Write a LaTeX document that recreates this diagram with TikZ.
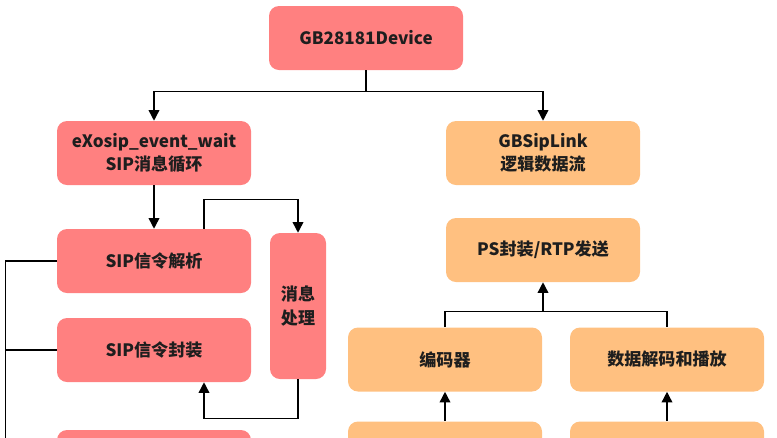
\documentclass[tikz,border=0pt]{standalone}
\usepackage{fontspec}
\setmainfont{Noto Sans CJK SC}
\usetikzlibrary{arrows.meta}
\definecolor{boxred}{RGB}{255,128,128}
\definecolor{boxorange}{RGB}{255,192,128}
\definecolor{textdark}{RGB}{30,30,30}
\tikzset{
  redbox/.style={rectangle, rounded corners=7.5pt, fill=boxred, inner sep=0pt,
    minimum width=145.5pt, minimum height=48pt, align=center, text=textdark,
    font=\bfseries\fontsize{12.8}{17.5}\selectfont},
  orangebox/.style={redbox, fill=boxorange},
  wire/.style={line width=1.1pt},
  link/.style={wire, -{Triangle[length=8pt,width=8pt]}}
}
\begin{document}
\begin{tikzpicture}[x=0.75pt,y=-0.75pt]
\useasboundingbox (0,0) rectangle (777,437);
\clip (0,0) rectangle (777,437);
% Top
\node[redbox] (device) at (366,38) {GB28181Device};
% SIP side
\node[redbox] (evtwait) at (154,153) {eXosip\_event\_wait\\SIP消息循环};
\node[redbox] (sipparse) at (154,261) {SIP信令解析};
\node[redbox] (sippack) at (154,350) {SIP信令封装};
\node[redbox] (sipnext) at (154,462) {};
\node[redbox, minimum width=42pt, minimum height=109.5pt] (msgproc) at (298,306) {消息\\处理};
% Media side
\node[orangebox] (siplink) at (543,153) {GBSipLink\\逻辑数据流};
\node[orangebox] (psrtp) at (543,250) {PS封装/RTP发送};
\node[orangebox] (encoder) at (445,359.5) {编码器};
\node[orangebox] (decoder) at (667,359.5) {数据解码和播放};
\node[orangebox] (encin) at (445,453.5) {};
\node[orangebox] (decin) at (667,453.5) {};
% Connectors
\draw[link] (device.south) -- ++(0,21) -| (evtwait.north);
\draw[link] (device.south) -- ++(0,21) -| (siplink.north);
\draw[link] (evtwait.south) -- (sipparse.north);
\draw[link] ([xshift=37.5pt]sipparse.north) -- ++(0,-29) -| (msgproc.north);
\draw[link] (msgproc.south) -- ++(0,39) -| ([xshift=37.5pt]sippack.south);
\draw[wire] (sipparse.west) -- ++(-51,0) |- (sipnext.west);
\draw[wire] (sippack.west) -- ++(-51,0);
\draw[wire] (encoder.north) -- ++(0,-16) -| (decoder.north);
\draw[link] (psrtp.south |- encoder.north) ++(0,-16) -- (psrtp.south);
\draw[link] (encin.north) -- (encoder.south);
\draw[link] (decin.north) -- (decoder.south);
\end{tikzpicture}
\end{document}
